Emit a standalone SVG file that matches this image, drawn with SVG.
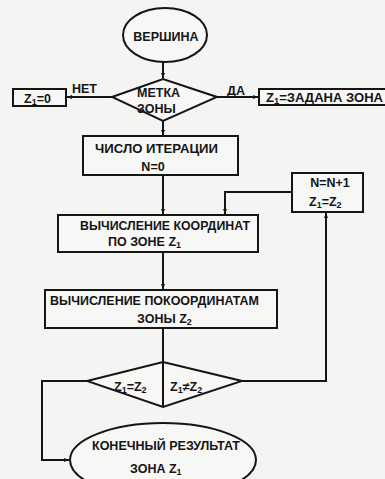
<svg xmlns="http://www.w3.org/2000/svg" width="385" height="479" viewBox="0 0 385 479">
<defs>
<marker id="ah" viewBox="0 0 10 10" refX="10" refY="5" markerWidth="5" markerHeight="5" orient="auto" markerUnits="userSpaceOnUse">
<path d="M0,1 L10,5 L0,9 z" fill="#151515"/>
</marker>
<style>
.s{fill:none;stroke:#151515;stroke-width:2}
.b{fill:#f7f7f5;stroke:#151515;stroke-width:2}
.t{font-family:"Liberation Sans",Arial,sans-serif;font-weight:bold;font-size:12.5px;fill:#151515}
.m{text-anchor:middle}
.sub{font-size:9px}
</style>
</defs>
<rect width="385" height="479" fill="#f4f4f2"/>
<g id="connectors">
<path class="s" d="M163,62 V78" marker-end="url(#ah)"/>
<path class="s" d="M112,97 H67" marker-end="url(#ah)"/>
<path class="s" d="M217,97 H258" marker-end="url(#ah)"/>
<path class="s" d="M163,121 V135" marker-end="url(#ah)"/>
<path class="s" d="M163,175 V214" marker-end="url(#ah)"/>
<path class="s" d="M292,192 H225 V214" marker-end="url(#ah)"/>
<path class="s" d="M163,252 V289" marker-end="url(#ah)"/>
<path class="s" d="M163,328 V407"/>
<path class="s" d="M242,381 H326 V213" marker-end="url(#ah)"/>
<path class="s" d="M87,381 H42 V460 H69" marker-end="url(#ah)"/>
<text class="t" x="72" y="93">НЕТ</text>
<text class="t" x="227" y="95">ДА</text>
</g>
<g id="start">
<ellipse class="b" cx="165" cy="35" rx="42" ry="27"/>
<text class="t m" x="166" y="41" font-size="13">ВЕРШИНА</text>
</g>
<g id="decision1">
<polygon class="b" points="112,97 163,79 217,97 163,121"/>
<text class="t" x="137" y="97">МЕТКА</text>
<text class="t" x="137" y="113">ЗОНЫ</text>
</g>
<g id="z1zero">
<rect class="b" x="13" y="89" width="53" height="17"/>
<text class="t" x="24" y="103">Z<tspan class="sub" dy="2">1</tspan><tspan dy="-2">=0</tspan></text>
</g>
<g id="z1given">
<rect class="b" x="259" y="89" width="130" height="16"/>
<text class="t" x="266" y="102" textLength="117" lengthAdjust="spacingAndGlyphs">Z<tspan class="sub" dy="2">1</tspan><tspan dy="-2">=ЗАДАНА ЗОНА</tspan></text>
</g>
<g id="iter">
<rect class="b" x="83" y="136" width="155" height="39"/>
<text class="t" x="95" y="153" textLength="123" lengthAdjust="spacingAndGlyphs">ЧИСЛО ИТЕРАЦИИ</text>
<text class="t m" x="153" y="171">N=0</text>
</g>
<g id="calc1">
<rect class="b" x="58" y="215" width="200" height="37"/>
<text class="t" x="80" y="230" textLength="170" lengthAdjust="spacingAndGlyphs">ВЫЧИСЛЕНИЕ КООРДИНАТ</text>
<text class="t" x="108" y="246">ПО ЗОНЕ Z<tspan class="sub" dy="2">1</tspan></text>
</g>
<g id="increment">
<rect class="b" x="292" y="173" width="71" height="39"/>
<text class="t m" x="330" y="187">N=N+1</text>
<text class="t" x="309" y="206">Z<tspan class="sub" dy="2">1</tspan><tspan dy="-2">=Z</tspan><tspan class="sub" dy="2">2</tspan></text>
</g>
<g id="calc2">
<rect class="b" x="45" y="290" width="232" height="38"/>
<text class="t" x="50" y="305" textLength="209" lengthAdjust="spacingAndGlyphs">ВЫЧИСЛЕНИЕ ПОКООРДИНАТАМ</text>
<text class="t" x="137" y="323">ЗОНЫ  Z<tspan class="sub" dy="2">2</tspan></text>
</g>
<g id="decision2">
<polygon class="b" points="87,381 163,362 242,381 163,407"/>
<line class="s" x1="163" y1="362" x2="163" y2="407"/>
<text class="t" x="114" y="391">Z<tspan class="sub" dy="2">1</tspan><tspan dy="-2">=Z</tspan><tspan class="sub" dy="2">2</tspan></text>
<text class="t" x="170" y="391">Z<tspan class="sub" dy="2">1</tspan><tspan dy="-2">≠Z</tspan><tspan class="sub" dy="2">2</tspan></text>
</g>
<g id="end">
<ellipse class="b" cx="163" cy="460" rx="93" ry="37"/>
<text class="t" x="92" y="450" textLength="148" lengthAdjust="spacingAndGlyphs">КОНЕЧНЫЙ РЕЗУЛЬТАТ</text>
<text class="t" x="130" y="473">ЗОНА Z<tspan class="sub" dy="2">1</tspan></text>
</g>
</svg>
